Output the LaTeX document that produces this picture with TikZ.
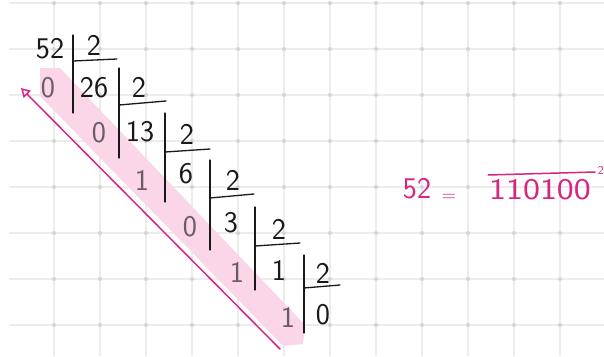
\documentclass[tikz,border=0pt]{standalone}
\usepackage{fontspec}
\usetikzlibrary{arrows.meta}
\definecolor{gridc}{RGB}{236,236,236}
\definecolor{dotc}{RGB}{212,212,212}
\definecolor{hl}{RGB}{250,214,232}
\definecolor{mag}{RGB}{214,38,128}
\definecolor{ink}{RGB}{25,25,25}
\definecolor{rem}{RGB}{105,92,104}
\begin{document}
\begin{tikzpicture}[x=1pt,y=-1pt,
  num/.style={font=\fontsize{30}{32}\selectfont\sffamily, text=ink, inner sep=0pt},
  remnum/.style={num, text=rem},
  pinknum/.style={num, text=mag},
  bar/.style={draw=ink, line width=1.3pt, line cap=round},
  gridline/.style={draw=gridc, line width=1.3pt},
  magline/.style={draw=mag, line width=1.5pt, line cap=round}]
\useasboundingbox (0,0) rectangle (604,356);
\fill[white] (0,0) rectangle (604,356);
% grid
\foreach \k in {0,...,7} \draw[gridline] (9,3+46*\k) -- (604,3+46*\k);
\foreach \k in {0,...,11} \draw[gridline] (54+46*\k,3) -- (54+46*\k,356);
\foreach \i in {0,...,11} \foreach \j in {0,...,7} \fill[dotc] (54+46*\i,3+46*\j) circle[radius=2pt];
% highlight band
\fill[hl] (40,68) -- (60,68) -- (305,325) -- (303,344) -- (283,346) -- (40,96) -- cycle;
% arrow
\coordinate (atail) at (280,349);
\coordinate (ahead) at (21,88);
\draw[magline, -{Triangle[open,length=9pt,width=10pt]}] (atail) -- (ahead);
% dividends / divisors / quotients
\node[num] (n52) at (50,49) {52};
\node[num] (d1) at (94,45) {2};
\node[num] (q26) at (94,88) {26};
\node[num] (d2) at (139,87) {2};
\node[num] (q13) at (140,132) {13};
\node[num] (d3) at (187,134) {2};
\node[num] (q6) at (186,174) {6};
\node[num] (d4) at (233,180) {2};
\node[num] (q3) at (231,223) {3};
\node[num] (d5) at (279,229) {2};
\node[num] (q1) at (279,270) {1};
\node[num] (d6) at (323,273) {2};
\node[num] (q0) at (323,315) {0};
% remainders
\node[remnum] (r1) at (48,88) {0};
\node[remnum] (r2) at (99,133) {0};
\node[remnum] (r3) at (142,180) {1};
\node[remnum] (r4) at (190,227) {0};
\node[remnum] (r5) at (237,272) {1};
\node[remnum] (r6) at (288,317) {1};
% division bars
\draw[bar] (73,35) -- (73,113);  \draw[bar] (73,61) -- (117,59);
\draw[bar] (119,68) -- (119,158); \draw[bar] (119,105) -- (166,101);
\draw[bar] (165,113) -- (165,202); \draw[bar] (165,152) -- (210,149);
\draw[bar] (210,160) -- (210,250); \draw[bar] (210,198) -- (254,194);
\draw[bar] (255,207) -- (255,290); \draw[bar] (255,246) -- (300,243);
\draw[bar] (304,255) -- (304,333); \draw[bar] (304,288) -- (340,285);
% result
\node[pinknum] (lhs) at (417,189) {52};
\node[pinknum, font=\fontsize{20}{22}\selectfont\sffamily] (eq) at (449,198) {=};
\node[pinknum] (bin) at (540,190) {\scalebox{1.2}[1]{110100}};
\coordinate (ol1) at (488,175);
\coordinate (ol2) at (595,172);
\draw[magline] (ol1) -- (ol2);
\node[pinknum, font=\fontsize{12}{14}\selectfont\sffamily, anchor=east] (base) at (604,170) {2};
\end{tikzpicture}
\end{document}
